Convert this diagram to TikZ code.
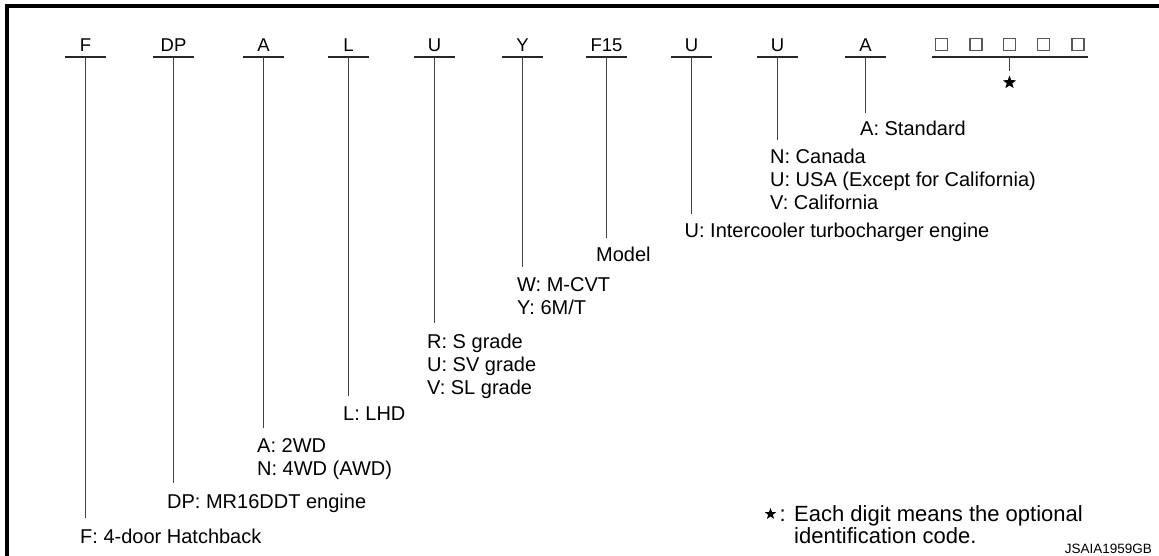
\documentclass[tikz,border=0pt]{standalone}
\usepackage{fontspec}
\setmainfont{Liberation Sans}
\usetikzlibrary{shapes.geometric}
\begin{document}
\begin{tikzpicture}[x=1pt,y=-1pt,
  code/.style={font=\fontsize{18.5}{21}\selectfont, inner sep=0pt, anchor=base},
  lab/.style={font=\fontsize{20}{23}\selectfont, inner sep=0pt, anchor=base west},
  foot/.style={font=\fontsize{22}{25}\selectfont, inner sep=0pt, anchor=base west},
  bar/.style={line width=1.4pt, draw=black!85},
  stem/.style={line width=1.1pt, draw=black!75},
  sq/.style={draw=black!65, line width=1.2pt, minimum size=12pt, inner sep=0pt},
  filledstar/.style={star, star points=5, star point ratio=2.4, fill=black, inner sep=0pt}
]
\useasboundingbox (0,0) rectangle (1159,556);
\draw[line width=4pt, line join=miter] (6.5,556) -- (6.5,6.5) -- (1159,6.5);

% F
\node[code] (cF) at (85.5,52) {F};
\coordinate (tF) at (85.5,57);
\draw[bar] ([xshift=-20.5pt]tF) -- ([xshift=20.5pt]tF);
\node[lab] (lF) at (80,543) {F: 4-door Hatchback};
\draw[stem] (tF) -- ([yshift=10pt]lF.north -| tF);

% DP
\node[code] (cDP) at (173.5,52) {DP};
\coordinate (tDP) at (173.5,57);
\draw[bar] ([xshift=-20.5pt]tDP) -- ([xshift=20.5pt]tDP);
\node[lab] (lDP) at (167,508) {DP: MR16DDT engine};
\draw[stem] (tDP) -- ([yshift=10pt]lDP.north -| tDP);

% A
\node[code] (cA) at (263.5,52) {A};
\coordinate (tA) at (263.5,57);
\draw[bar] ([xshift=-20.5pt]tA) -- ([xshift=20.5pt]tA);
\node[lab] (lA1) at (257,452) {A: 2WD};
\node[lab] (lA2) at (257,475) {N: 4WD (AWD)};
\draw[stem] (tA) -- ([yshift=10pt]lA1.north -| tA);

% L
\node[code] (cL) at (348.5,52) {L};
\coordinate (tL) at (348.5,57);
\draw[bar] ([xshift=-20.5pt]tL) -- ([xshift=20.5pt]tL);
\node[lab] (lL) at (343,420) {L: LHD};
\draw[stem] (tL) -- ([yshift=10pt]lL.north -| tL);

% U (grade)
\node[code] (cU1) at (434.5,52) {U};
\coordinate (tU1) at (434.5,57);
\draw[bar] ([xshift=-20.5pt]tU1) -- ([xshift=20.5pt]tU1);
\node[lab] (lU1a) at (427,348) {R: S grade};
\node[lab] (lU1b) at (427,371) {U: SV grade};
\node[lab] (lU1c) at (427,394) {V: SL grade};
\draw[stem] (tU1) -- ([yshift=10pt]lU1a.north -| tU1);

% Y
\node[code] (cY) at (522.5,52) {Y};
\coordinate (tY) at (522.5,57);
\draw[bar] ([xshift=-20.5pt]tY) -- ([xshift=20.5pt]tY);
\node[lab] (lYa) at (517,291) {W: M-CVT};
\node[lab] (lYb) at (517,314) {Y: 6M/T};
\draw[stem] (tY) -- ([yshift=10pt]lYa.north -| tY);

% F15
\node[code] (cF15) at (606.5,52) {F15};
\coordinate (tF15) at (606.5,57);
\draw[bar] ([xshift=-20.5pt]tF15) -- ([xshift=20.5pt]tF15);
\node[lab] (lF15) at (596,261) {Model};
\draw[stem] (tF15) -- ([yshift=8pt]lF15.north -| tF15);

% U (engine)
\node[code] (cU2) at (691.5,52) {U};
\coordinate (tU2) at (691.5,57);
\draw[bar] ([xshift=-20.5pt]tU2) -- ([xshift=20.5pt]tU2);
\node[lab] (lU2) at (684.5,237) {U: Intercooler turbocharger engine};
\draw[stem] (tU2) -- ([yshift=8pt]lU2.north -| tU2);

% U (market)
\node[code] (cU3) at (777.5,52) {U};
\coordinate (tU3) at (777.5,57);
\draw[bar] ([xshift=-20.5pt]tU3) -- ([xshift=20.5pt]tU3);
\node[lab] (lU3a) at (770,164) {N: Canada};
\node[lab] (lU3b) at (770,187) {U: USA (Except for California)};
\node[lab] (lU3c) at (770,209.5) {V: California};
\draw[stem] (tU3) -- ([yshift=9pt]lU3a.north -| tU3);

% A (standard)
\node[code] (cA2) at (865.5,52) {A};
\coordinate (tA2) at (865.5,57);
\draw[bar] ([xshift=-20.5pt]tA2) -- ([xshift=20.5pt]tA2);
\node[lab] (lA2s) at (860,135.5) {A: Standard};
\draw[stem] (tA2) -- ([yshift=8pt]lA2s.north -| tA2);

% optional digits
\node[sq] (q1) at (941.5,44.5) {};
\node[sq] (q2) at (976,44.5) {};
\node[sq] (q3) at (1009.5,44.5) {};
\node[sq] (q4) at (1043.5,44.5) {};
\node[sq] (q5) at (1078,44.5) {};
\coordinate (tQ) at (1009.5,57);
\draw[bar] (931.5,57) -- (1088,57);
\node[filledstar, minimum size=14pt] (st) at (1009.5,82.5) {};
\draw[stem] (tQ) -- ([yshift=4pt]st.north);

% footnote
\node[filledstar, minimum size=12pt] (fst) at (770.5,514) {};
\node[foot] (fcol) at (779.5,521) {:};
\node[foot] (fn1) at (794,521) {Each digit means the optional};
\node[foot] (fn2) at (794,543) {identification code.};
\node[font=\fontsize{13.5}{16}\selectfont, inner sep=0pt, anchor=base east] (ref) at (1152,553) {JSAIA1959GB};
\end{tikzpicture}
\end{document}
